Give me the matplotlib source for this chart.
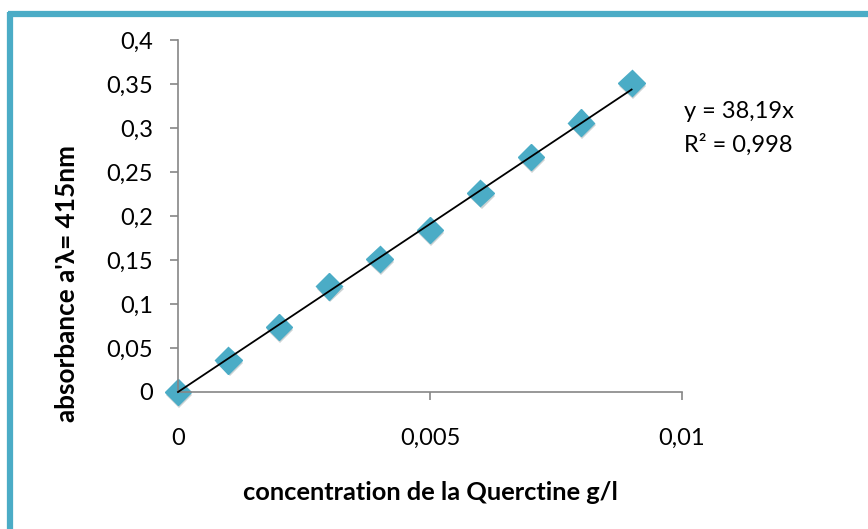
import matplotlib
matplotlib.use("Agg")
import matplotlib.pyplot as plt
import matplotlib.patheffects as pe
from matplotlib.ticker import FuncFormatter
import numpy as np

concentration = [0, 0.001, 0.002, 0.003, 0.004, 0.005, 0.006, 0.007, 0.008, 0.009]
absorbance = [0, 0.036, 0.074, 0.120, 0.151, 0.184, 0.226, 0.267, 0.306, 0.351]
slope = 38.19
r2 = 0.998
x_ticks = [0, 0.005, 0.01]
y_ticks = [0, 0.05, 0.1, 0.15, 0.2, 0.25, 0.3, 0.35, 0.4]

plt.rcParams['font.family'] = ['Lato', 'DejaVu Sans']

fig = plt.figure(figsize=(8.68, 5.29), dpi=100)
fig.patch.set_facecolor('white')

# border (top and left visible)
border_color = '#4BACC6'
fig.add_artist(plt.Line2D([0.009, 1.0], [1 - 14/529, 1 - 14/529], transform=fig.transFigure,
                          color=border_color, lw=4.5, solid_capstyle='butt'))
fig.add_artist(plt.Line2D([10/868, 10/868], [0, 1 - 12/529], transform=fig.transFigure,
                          color=border_color, lw=4.5, solid_capstyle='butt'))

ax = fig.add_axes([178/868, 1 - 392/529, (682 - 178)/868, (392 - 40)/529])

ax.plot(concentration, absorbance, linestyle='none', marker='D', markersize=13.5,
        color='#4BACC6', markeredgecolor='#4BACC6', zorder=2,
        path_effects=[pe.SimplePatchShadow(offset=(0.8, -2), alpha=0.22), pe.Normal()],
        clip_on=False)

xs = np.array([concentration[0], concentration[-1]])
ax.plot(xs, slope * xs, color='black', lw=1.3, zorder=3, clip_on=False)

ax.set_xlim(0, 0.01)
ax.set_ylim(0, 0.4)
ax.set_xticks(x_ticks)
ax.set_yticks(y_ticks)

def fmt(v, pos):
    s = ('%.3f' % v).rstrip('0').rstrip('.')
    return s.replace('.', ',')

ax.xaxis.set_major_formatter(FuncFormatter(fmt))
ax.yaxis.set_major_formatter(FuncFormatter(fmt))

for s in ['top', 'right']:
    ax.spines[s].set_visible(False)
for s in ['left', 'bottom']:
    ax.spines[s].set_color('#868686')
    ax.spines[s].set_linewidth(1.2)

ax.tick_params(axis='both', direction='out', length=6, width=1.2, color='#868686',
               labelsize=17, labelcolor='black')
ax.tick_params(axis='x', pad=20)
ax.tick_params(axis='y', pad=12)

ax.set_xlabel('concentration de la Querctine g/l', fontsize=18.3, fontweight='bold', va='center')
ax.set_ylabel("absorbance a'λ= 415nm", fontsize=18.8, fontweight='bold', va='center')
ax.xaxis.set_label_coords(0.5, (392 - 493) / 352)
ax.yaxis.set_label_coords((67 - 178) / 504, (392 - 283) / 352)

ax.text(684/868, 1 - 111/529, 'y = 38,19x', transform=fig.transFigure, fontsize=17,
        va='center', ha='left')
ax.text(684/868, 1 - 145/529, 'R² = 0,998', transform=fig.transFigure, fontsize=17,
        va='center', ha='left')

fig.savefig('out.png', dpi=100, facecolor='white')
